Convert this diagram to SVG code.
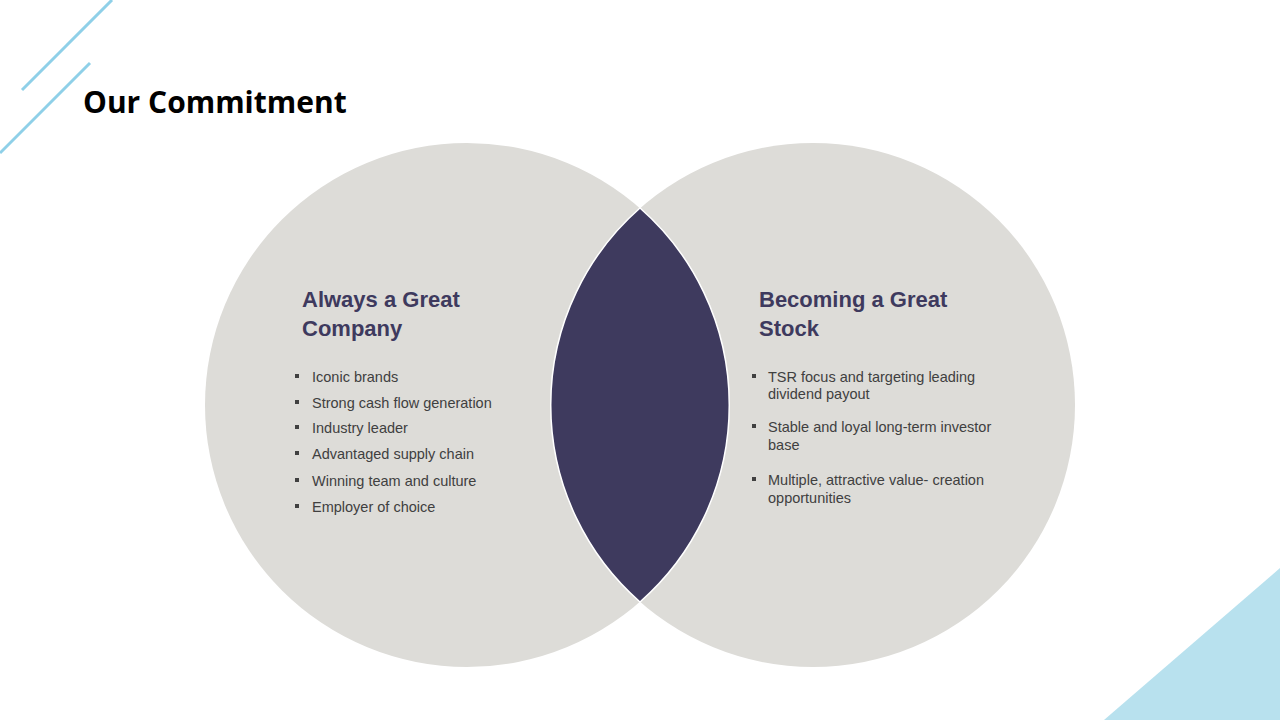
<svg xmlns="http://www.w3.org/2000/svg" width="1280" height="720" viewBox="0 0 1280 720">
<style>
.c{fill:#DDDCD8}
.h{font-family:"Liberation Sans",Arial,sans-serif;font-weight:bold;font-size:22px;fill:#3E3A5E}
.b{font-family:"Liberation Sans",Arial,sans-serif;font-size:14.5px;fill:#404040}
.sq{fill:#404040}
.d{stroke:#8FD0E8;stroke-width:3}
</style>
<rect width="1280" height="720" fill="#fff"/>
<line class="d" x1="22" y1="90" x2="112" y2="0"/>
<line class="d" x1="0" y1="153" x2="90" y2="63"/>
<polygon points="1104,720 1280,568 1280,720" fill="#B8E1EE"/>
<text x="83" y="113" font-family="'Open Sans',sans-serif" font-weight="bold" font-size="30" fill="#000">Our Commitment</text>
<g id="left"><circle class="c" cx="467" cy="405" r="262"/></g>
<g id="right"><circle class="c" cx="813" cy="405" r="262"/></g>
<g id="lens"><path d="M640,208 A262,262 0 0 0 640,602 A262,262 0 0 0 640,208 Z" fill="#3E3A5E" stroke="#fff" stroke-width="1.5"/></g>
<g id="left-text">
<text class="h" x="302" y="307">Always a Great</text>
<text class="h" x="302" y="336">Company</text>
<g class="b">
<text x="312" y="382">Iconic brands</text>
<text x="312" y="408">Strong cash flow generation</text>
<text x="312" y="433">Industry leader</text>
<text x="312" y="459">Advantaged supply chain</text>
<text x="312" y="486">Winning team and culture</text>
<text x="312" y="512">Employer of choice</text>
</g>
<g class="sq">
<rect x="295" y="374" width="4" height="4"/><rect x="295" y="400" width="4" height="4"/><rect x="295" y="425" width="4" height="4"/><rect x="295" y="451" width="4" height="4"/><rect x="295" y="478" width="4" height="4"/><rect x="295" y="504" width="4" height="4"/>
</g>
</g>
<g id="right-text">
<text class="h" x="759" y="307">Becoming  a Great</text>
<text class="h" x="759" y="336">Stock</text>
<g class="b">
<text x="768" y="382">TSR focus and targeting leading</text>
<text x="768" y="399">dividend payout</text>
<text x="768" y="432">Stable and loyal long-term investor</text>
<text x="768" y="450">base</text>
<text x="768" y="485">Multiple,  attractive value- creation</text>
<text x="768" y="503">opportunities</text>
</g>
<g class="sq">
<rect x="752" y="374" width="4" height="4"/><rect x="752" y="424" width="4" height="4"/><rect x="752" y="477" width="4" height="4"/>
</g>
</g>
</svg>
